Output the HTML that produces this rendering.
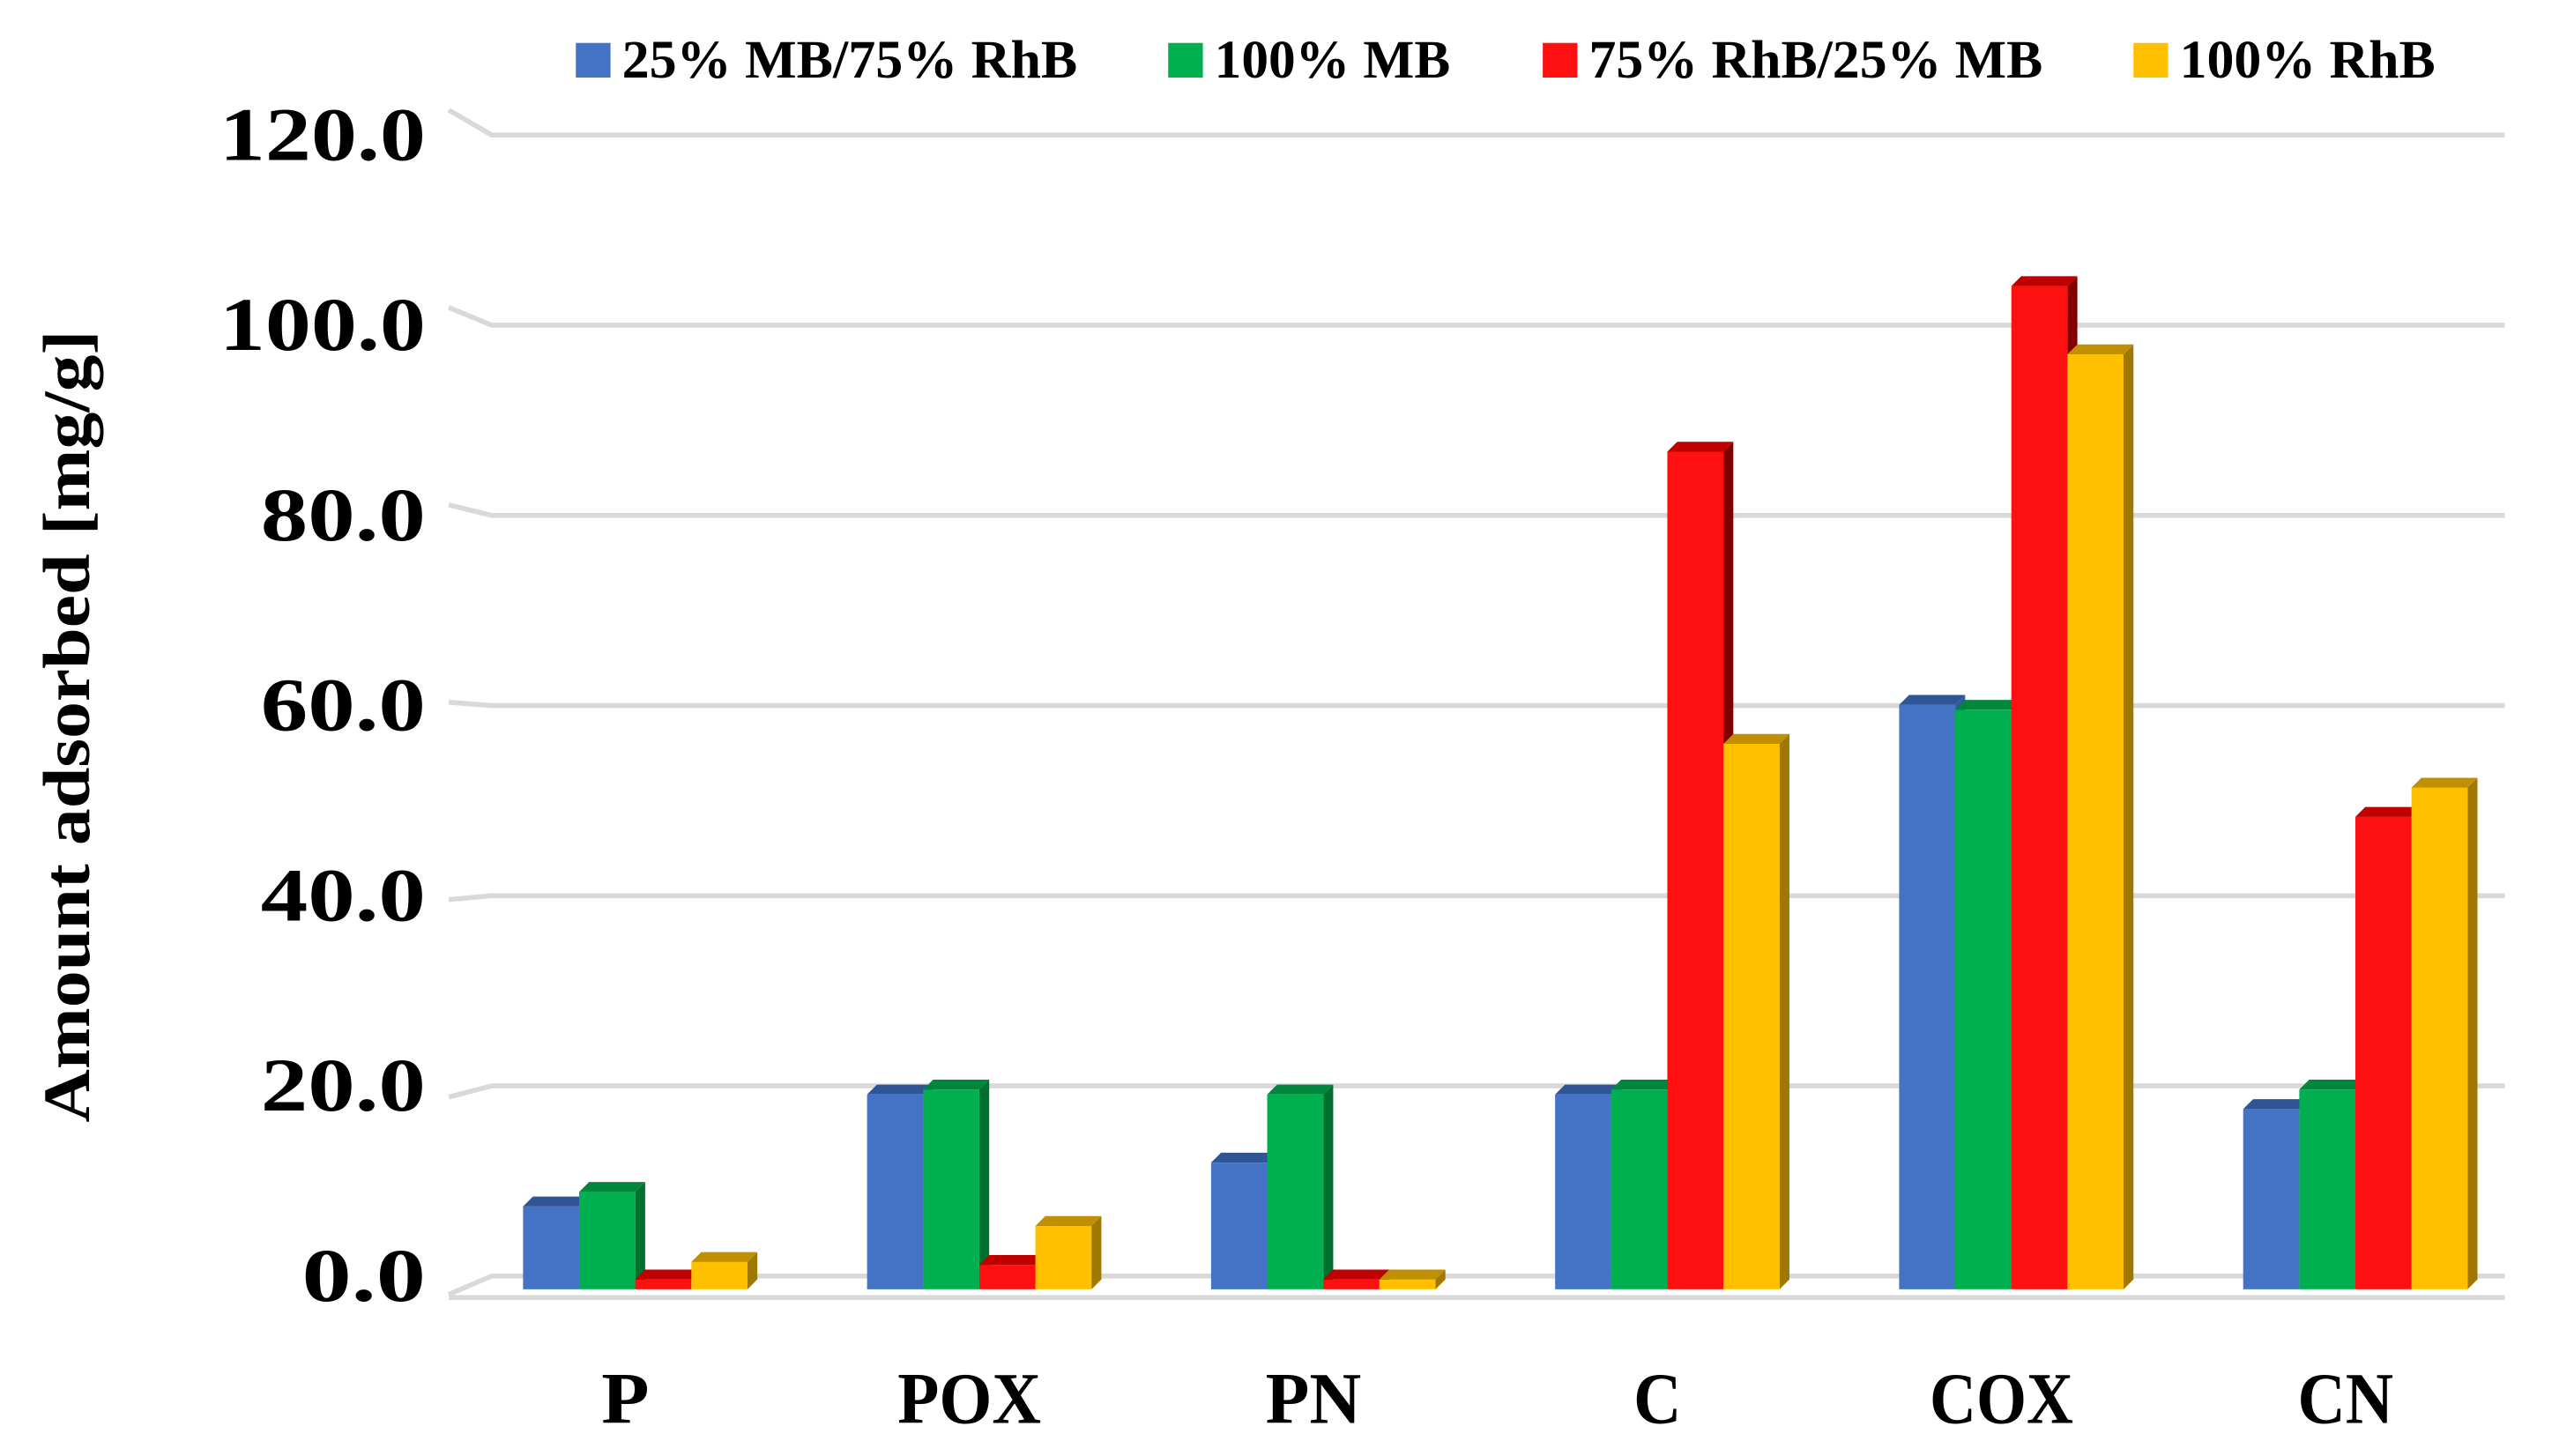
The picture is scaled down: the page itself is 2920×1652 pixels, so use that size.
<!DOCTYPE html>
<html><head><meta charset="utf-8"><style>
html,body{margin:0;padding:0;background:#fff;width:2920px;height:1652px;overflow:hidden}
svg text{font-family:"Liberation Serif",serif;font-weight:bold;fill:#000}
</style></head><body>
<svg id="chart" width="2920" height="1652" viewBox="0 0 1560 882" preserveAspectRatio="none" xmlns="http://www.w3.org/2000/svg">
<g id="grid"></g>
<g id="yt"></g>
<g id="bars"></g>
<g id="xt"></g>
<text x="0" y="0" font-size="40" text-anchor="middle" textLength="480" lengthAdjust="spacingAndGlyphs" transform="translate(54,440) rotate(-90)">Amount adsorbed [mg/g]</text>
<g id="legend"></g>
</svg>
<script>
const categories=["P","POX","PN","C","COX","CN"];
const seriesNames=["25% MB/75% RhB","100% MB","75% RhB/25% MB","100% RhB"];
const s1=[8.5,20,13,20,60,18.5];
const s2=[10,20.5,20,20.5,59.5,20.5];
const s3=[1,2.5,1,86,103,48.5];
const s4=[2.8,6.5,1,56,96,51.5];
const yTicks=[0,20,40,60,80,100,120];
const series=[s1,s2,s3,s4];
const colors=[["#4472c4","#2f5597","#34589a"],["#00b050","#00873c","#00702f"],["#ff1010","#c00000","#800000"],["#ffc000","#c09000","#a07800"]];
const NS="http://www.w3.org/2000/svg";
function el(t,a,p){const e=document.createElementNS(NS,t);for(const k in a)e.setAttribute(k,a[k]);p.appendChild(e);return e;}
const yBack=v=>773-v*5.76;
const yFront=v=>781-v*5.9;
const catX=i=>317+i*208.5;
const grid=document.getElementById('grid'),yt=document.getElementById('yt'),bars=document.getElementById('bars'),xt=document.getElementById('xt'),lg=document.getElementById('legend');
yTicks.forEach(v=>{
  const yb=yBack(v), yf=yb+(yb-480)*0.038;
  const l=el('polyline',{points:`272,${yf} 298,${yb} 1518,${yb}`,fill:'none',stroke:'#d9d9d9','stroke-width':3},grid);
  
  
  const lbl=v.toFixed(1);
  const t=el('text',{x:258,y:yb+15,'font-size':46,'text-anchor':'end',textLength:lbl.length*25,lengthAdjust:'spacingAndGlyphs'},yt);
  t.textContent=lbl;
  
  
});
const f=el('line',{x1:272,y1:786,x2:1518,y2:786,stroke:'#d9d9d9','stroke-width':3},grid);


const W=34,D=6;
categories.forEach((c,i)=>{
  series.forEach((s,j)=>{
    const x=catX(i)+j*W, y0=781, y1=yFront(s[i]);
    const g=el('g',{},bars);
    
    
    el('polygon',{points:`${x+W},${y0} ${x+W+D},${y0-D} ${x+W+D},${y1-D} ${x+W},${y1}`,fill:colors[j][2]},g);
    el('rect',{x:x,y:y1,width:W,height:Math.max(0.5,y0-y1),fill:colors[j][0]},g);
    el('polygon',{points:`${x},${y1} ${x+D},${y1-D} ${x+W+D},${y1-D} ${x+W},${y1}`,fill:colors[j][1]},g);
  });
  const t=el('text',{x:catX(i)+62,y:862,'font-size':44,'text-anchor':'middle',textLength:c.length*29,lengthAdjust:'spacingAndGlyphs'},xt);
  t.textContent=c;
  
  
});
const lx=[349,708,935,1293];
const lw=[276,143,275,155];
seriesNames.forEach((n,j)=>{
  const g=el('g',{},lg);
  
  
  el('rect',{x:lx[j],y:26,width:21,height:21,fill:colors[j][0]},g);
  const t=el('text',{x:lx[j]+28,y:47,'font-size':33,textLength:lw[j],lengthAdjust:'spacingAndGlyphs'},g);
  t.textContent=n;
});
</script>
</body></html>
